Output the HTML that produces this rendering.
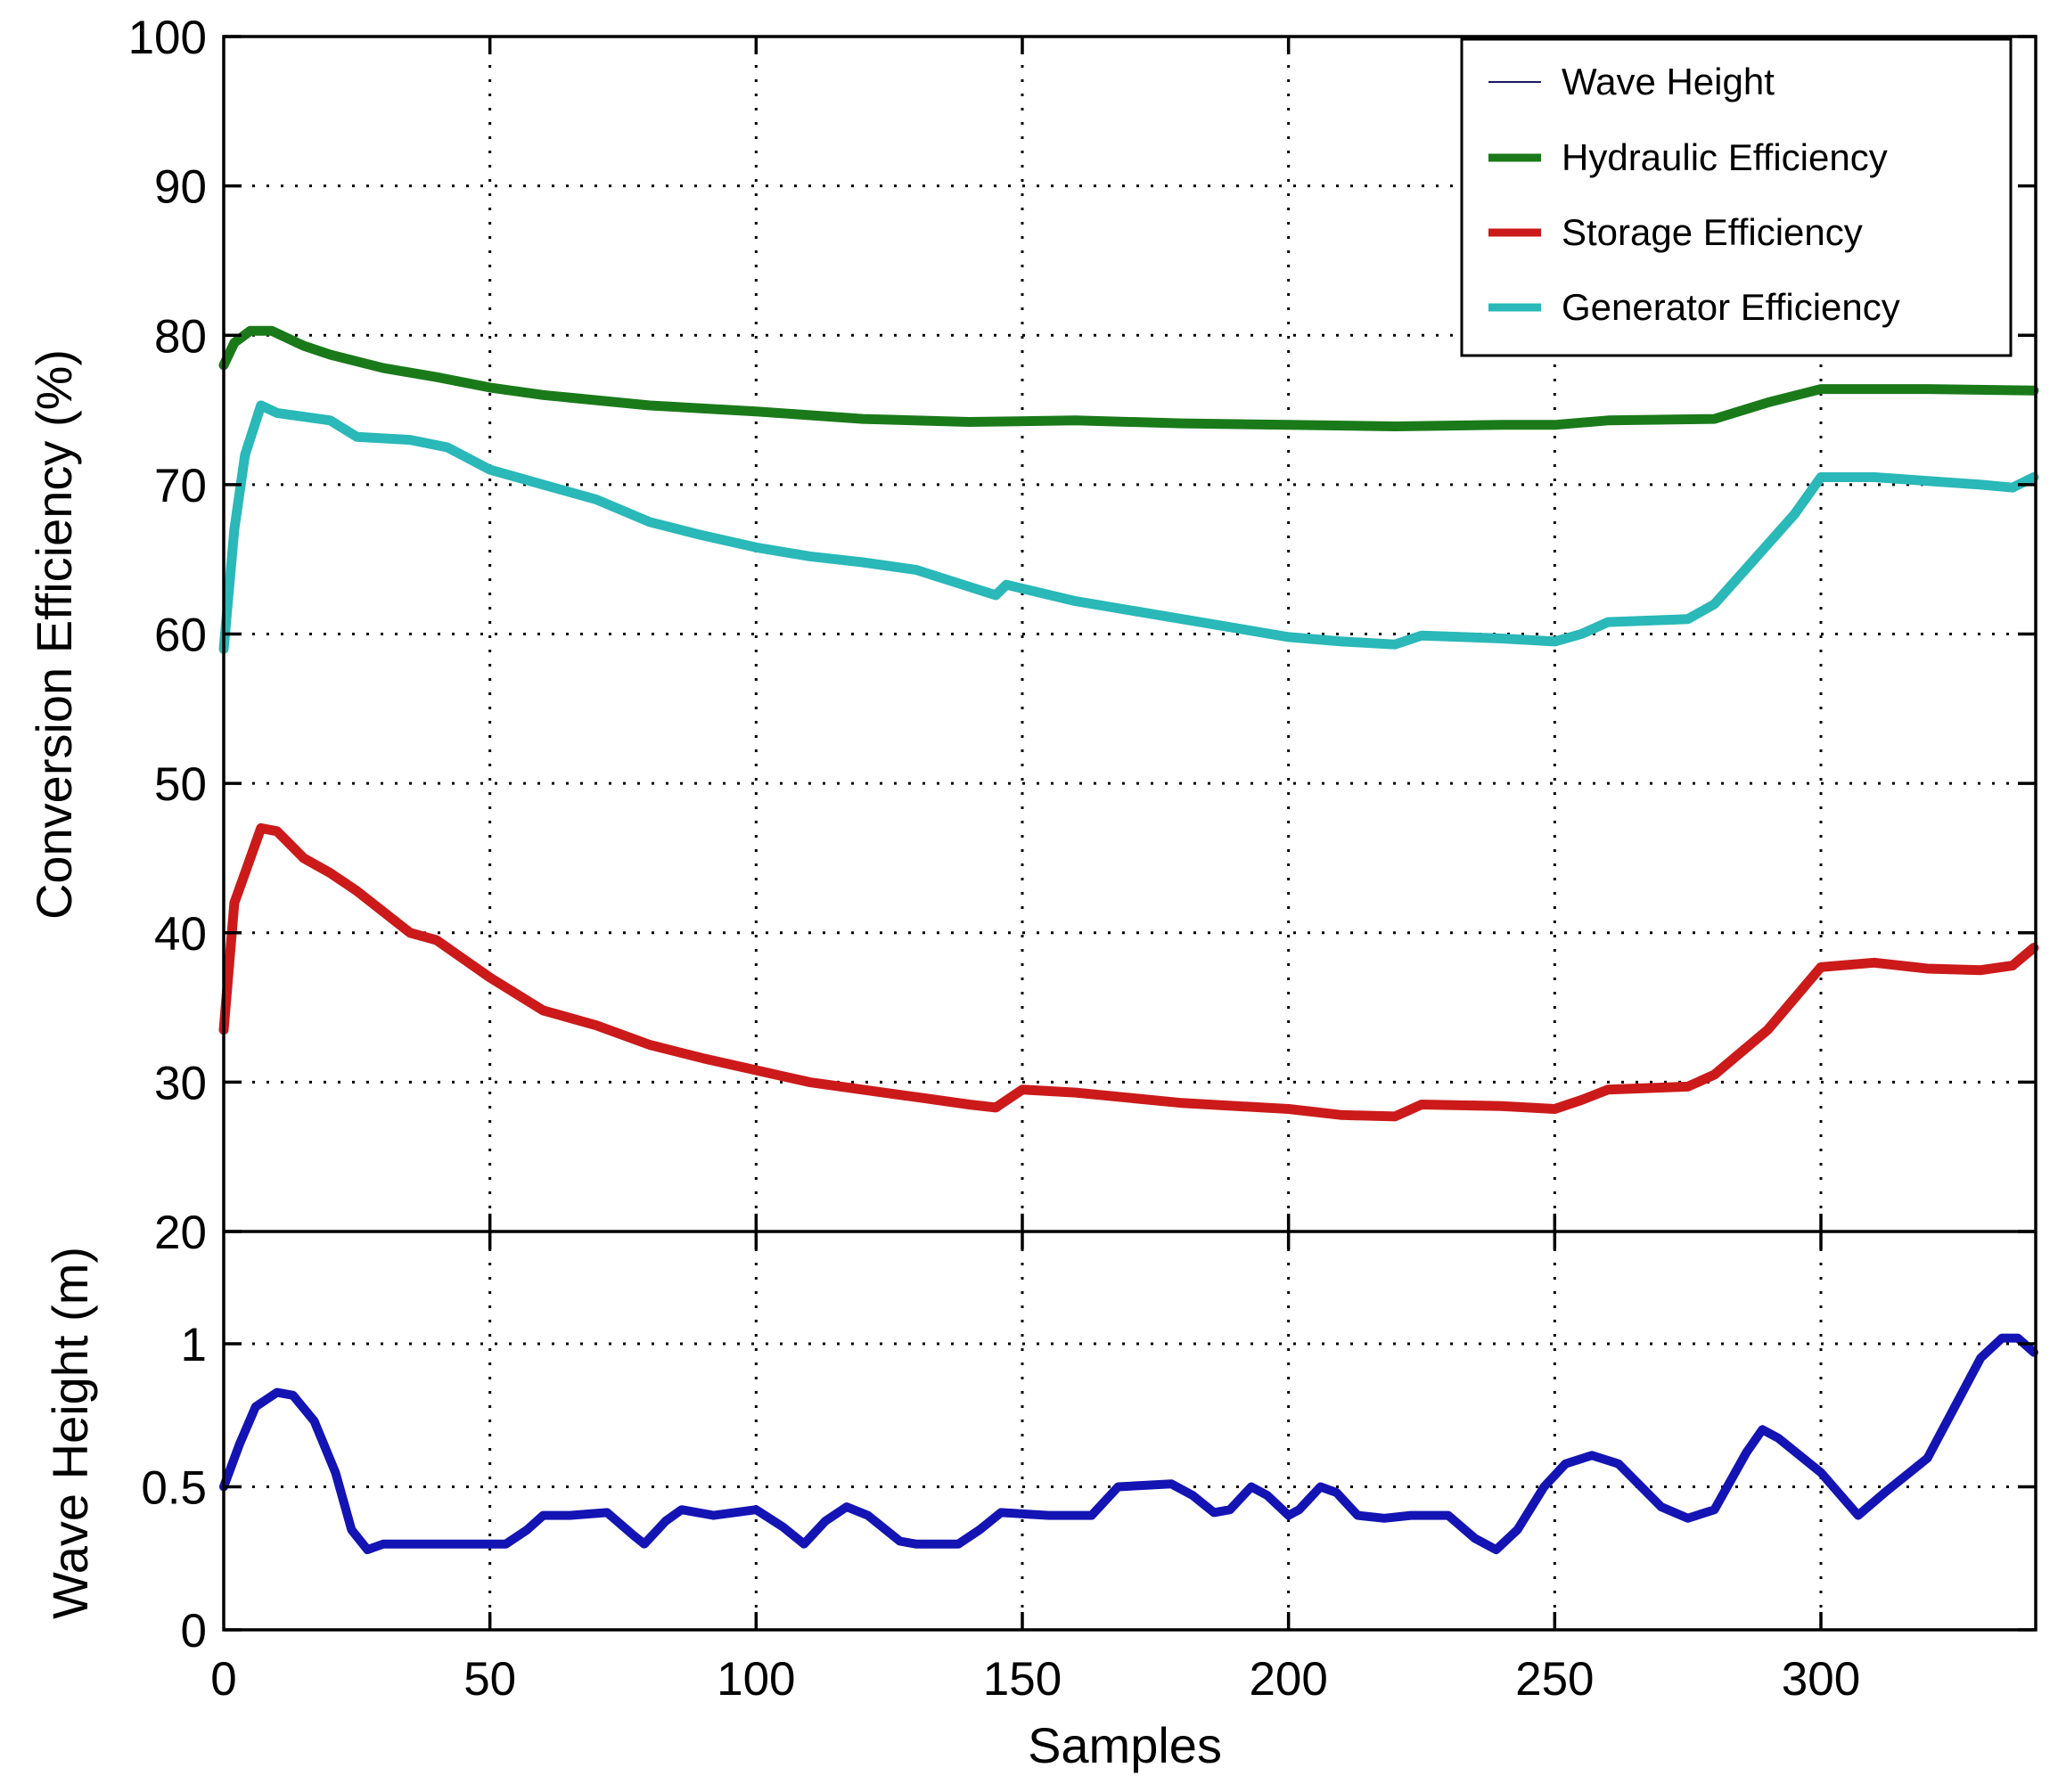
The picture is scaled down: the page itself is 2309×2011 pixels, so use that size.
<!DOCTYPE html>
<html><head><meta charset="utf-8"><style>
html,body{margin:0;padding:0;background:#fff;}
svg{display:block;}
text{font-family:"Liberation Sans",sans-serif;fill:#000;}
</style></head><body>
<svg id="s" width="2309" height="2011" viewBox="0 0 2309 2011" xmlns="http://www.w3.org/2000/svg">
<g id="grid" stroke="#000" stroke-width="3" stroke-dasharray="3 13" fill="none"></g>
<g id="series" fill="none" stroke-linejoin="round" stroke-linecap="round"></g>
<g id="axes" stroke="#000" stroke-width="3.5" fill="none">
<rect x="251" y="41" width="2033" height="1788"/>
<line x1="251" y1="1382" x2="2284" y2="1382"/>
</g>
<g id="ticks" stroke="#000" stroke-width="3.5"></g>
<g id="labels" font-size="53"></g>
<text x="1262" y="1978" font-size="56" text-anchor="middle">Samples</text>
<text transform="translate(80,712) rotate(-90)" font-size="56" text-anchor="middle">Conversion Efficiency (%)</text>
<text transform="translate(98,1608) rotate(-90)" font-size="56" text-anchor="middle">Wave Height (m)</text>
<g>
<rect x="1640" y="44" width="616" height="355" fill="#fff" stroke="#000" stroke-width="3"/>
<line x1="1670" y1="92" x2="1729" y2="92" stroke="#1a1a60" stroke-width="2"/>
<line x1="1670" y1="177" x2="1729" y2="177" stroke="#1a7a1a" stroke-width="9"/>
<line x1="1670" y1="261" x2="1729" y2="261" stroke="#cc1a1a" stroke-width="9"/>
<line x1="1670" y1="345" x2="1729" y2="345" stroke="#2ab8b8" stroke-width="9"/>
<g font-size="42" fill="#222">
<text x="1752" y="106">Wave Height</text>
<text x="1752" y="191">Hydraulic Efficiency</text>
<text x="1752" y="275">Storage Efficiency</text>
<text x="1752" y="359">Generator Efficiency</text>
</g>
</g>
</svg>
<script>
var L=251,R=2284,T=41,S=1382,B=1829;
function X(v){return L+v*(2043-251)/300;}
function Y1(v){return T+(100-v)*(S-T)/80;}
function Y2(v){return B-v*321;}
var NS="http://www.w3.org/2000/svg";
function el(p,n,a,t){var e=document.createElementNS(NS,n);for(var k in a)e.setAttribute(k,a[k]);if(t!=null)e.textContent=t;document.getElementById(p).appendChild(e);return e;}
for(var x=50;x<=300;x+=50){var px=X(x);
 el("grid","line",{x1:px,y1:T,x2:px,y2:B});
 el("ticks","line",{x1:px,y1:T,x2:px,y2:T+20});el("ticks","line",{x1:px,y1:S,x2:px,y2:S-20});
 el("ticks","line",{x1:px,y1:S,x2:px,y2:S+20});el("ticks","line",{x1:px,y1:B,x2:px,y2:B-20});}
for(var x=0;x<=300;x+=50){el("labels","text",{x:X(x),y:1902,"text-anchor":"middle"},String(x));}
for(var v=20;v<=100;v+=10){var py=Y1(v);
 if(v>20&&v<100)el("grid","line",{x1:L,y1:py,x2:R,y2:py});
 el("ticks","line",{x1:L,y1:py,x2:L+20,y2:py});el("ticks","line",{x1:R,y1:py,x2:R-20,y2:py});
 el("labels","text",{x:232,y:py+19,"text-anchor":"end"},String(v));}
[0,0.5,1].forEach(function(v){var py=Y2(v);
 if(v>0)el("grid","line",{x1:L,y1:py,x2:R,y2:py});
 el("ticks","line",{x1:L,y1:py,x2:L+20,y2:py});el("ticks","line",{x1:R,y1:py,x2:R-20,y2:py});
 if(v>0)el("labels","text",{x:232,y:py+19,"text-anchor":"end"},String(v));});
el("labels","text",{x:232,y:B+19,"text-anchor":"end"},"0");
function path(d,fy,col,w){var s="";d.forEach(function(p,i){s+=(i?"L":"M")+X(p[0]).toFixed(1)+","+fy(p[1]).toFixed(1);});el("series","path",{d:s,stroke:col,"stroke-width":w});}
path([[0,78],[2,79.5],[5,80.3],[9,80.3],[15,79.3],[20,78.7],[30,77.8],[40,77.2],[50,76.5],[60,76],[80,75.3],[100,74.9],[120,74.4],[140,74.2],[160,74.3],[180,74.1],[200,74],[220,73.9],[240,74],[250,74],[260,74.3],[280,74.4],[290,75.5],[300,76.4],[320,76.4],[340,76.3]],Y1,"#1a7a1a",11);
path([[0,59],[2,67],[4,72],[7,75.3],[10,74.8],[20,74.3],[25,73.2],[35,73],[42,72.5],[50,71],[60,70],[70,69],[80,67.5],[90,66.6],[100,65.8],[110,65.2],[120,64.8],[130,64.3],[145,62.6],[147,63.3],[160,62.2],[180,61],[200,59.8],[210,59.5],[220,59.3],[225,59.9],[240,59.7],[250,59.5],[255,60],[260,60.8],[275,61],[280,62],[290,66],[295,68],[300,70.5],[310,70.5],[330,70],[336,69.8],[340,70.5]],Y1,"#2ab8b8",11);
path([[0,33.5],[2,42],[4,44],[7,47],[10,46.8],[15,45],[20,44],[25,42.8],[35,40],[40,39.5],[50,37],[60,34.8],[70,33.8],[80,32.5],[90,31.6],[100,30.8],[110,30],[120,29.5],[130,29],[140,28.5],[145,28.3],[150,29.5],[160,29.3],[180,28.6],[200,28.2],[210,27.8],[220,27.7],[225,28.5],[240,28.4],[250,28.2],[255,28.8],[260,29.5],[275,29.7],[280,30.5],[290,33.5],[300,37.7],[310,38],[320,37.6],[330,37.5],[336,37.8],[340,39]],Y1,"#cc1a1a",11);
path([[0,0.5],[3,0.65],[6,0.78],[10,0.83],[13,0.82],[17,0.73],[21,0.55],[24,0.35],[27,0.28],[30,0.3],[40,0.3],[50,0.3],[53,0.3],[57,0.35],[60,0.4],[65,0.4],[72,0.41],[77,0.33],[79,0.3],[83,0.38],[86,0.42],[92,0.4],[100,0.42],[105,0.36],[109,0.3],[113,0.38],[117,0.43],[121,0.4],[127,0.31],[130,0.3],[138,0.3],[142,0.35],[146,0.41],[155,0.4],[163,0.4],[168,0.5],[178,0.51],[182,0.47],[186,0.41],[189,0.42],[193,0.5],[196,0.47],[200,0.4],[202,0.42],[206,0.5],[209,0.48],[213,0.4],[218,0.39],[223,0.4],[230,0.4],[235,0.32],[239,0.28],[243,0.35],[248,0.5],[252,0.58],[257,0.61],[262,0.58],[270,0.43],[275,0.39],[280,0.42],[286,0.62],[289,0.7],[292,0.67],[300,0.55],[307,0.4],[312,0.48],[320,0.6],[330,0.95],[334,1.02],[337,1.02],[340,0.97]],Y2,"#1414b4",10);
</script>
</body></html>
